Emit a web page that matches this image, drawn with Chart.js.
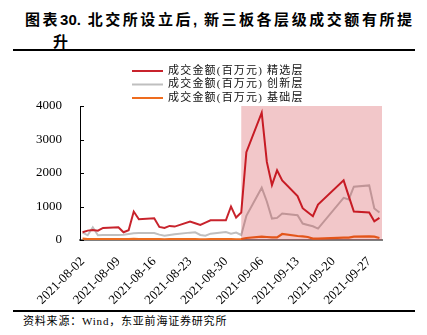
<!DOCTYPE html>
<html>
<head>
<meta charset="utf-8">
<script src="https://cdn.jsdelivr.net/npm/chart.js@4.4.0/dist/chart.umd.min.js"></script>
<style>
  html, body { margin: 0; padding: 0; background: #fff; }
  body { width: 427px; height: 335px; position: relative; overflow: hidden;
         font-family: "Liberation Sans", "Noto Sans CJK SC", sans-serif; color: #000; }
  .title { position: absolute; left: 25px; top: 9px; width: 359px; padding-left: 28px; text-indent: -28px;
           font-size: 15px; font-weight: bold; line-height: 22px;
           text-align: justify; text-align-last: justify; }
  .rule { position: absolute; left: 13px; width: 402px; height: 2px; background: #000; }
  #wrap { position: absolute; left: 0; top: 52px; width: 427px; height: 258px; }
  .src { position: absolute; left: 23px; top: 313px; font-size: 11px; line-height: 16px; letter-spacing: 0.8px;
         font-family: "Liberation Serif", "Noto Sans CJK SC", serif; }
</style>
</head>
<body>
<div class="title">图表30. 北交所设立后, 新三板各层级成交额有所提<br>升</div>
<div class="rule" style="top:49px"></div>
<div id="wrap"><canvas id="c"></canvas></div>
<div class="rule" style="top:310px"></div>
<div class="src">资料来源：Wind，东亚前海证券研究所</div>

<script>
// Trading days, August - September 2021
const tradeDates = [
  '2021-08-02','2021-08-03','2021-08-04','2021-08-05','2021-08-06',
  '2021-08-09','2021-08-10','2021-08-11','2021-08-12','2021-08-13',
  '2021-08-16','2021-08-17','2021-08-18','2021-08-19','2021-08-20',
  '2021-08-23','2021-08-24','2021-08-25','2021-08-26','2021-08-27',
  '2021-08-30','2021-08-31','2021-09-01','2021-09-02','2021-09-03',
  '2021-09-06','2021-09-07','2021-09-08','2021-09-09','2021-09-10',
  '2021-09-13','2021-09-14','2021-09-15','2021-09-16','2021-09-17',
  '2021-09-22','2021-09-23','2021-09-24',
  '2021-09-27','2021-09-28','2021-09-29'
];

// Turnover, million yuan
const selectTier = [
  230, 280, 300, 280, 360,
  380, 230, 290, 850, 620,
  650, 390, 360, 420, 400,
  550, 500, 450, 520, 590,
  590, 1000, 670, 820, 2620,
  3800, 2330, 1640, 2080, 1780,
  1310, 950, 830, 710, 1060,
  1780, 1310, 850,
  820, 560, 660
];
const innovationTier = [
  220, 140, 380, 140, 150,
  150, 160, 180, 200, 210,
  210, 160, 130, 150, 170,
  220, 230, 150, 130, 190,
  240, 190, 220, 150, 720,
  1560, 1150, 640, 660, 790,
  740, 490, 450, 410, 340,
  1260, 1210, 1590,
  1630, 940, 820
];
const baseTier = [
  40, 30, 30, 25, 30,
  25, 25, 30, 35, 30,
  30, 25, 20, 25, 30,
  30, 25, 20, 20, 25,
  30, 25, 20, 30, 60,
  100, 90, 80, 80, 180,
  120, 110, 90, 40, 40,
  70, 70, 100,
  110, 100, 60
];

const seriesNames = ['成交金额(百万元) 精选层', '成交金额(百万元) 创新层', '成交金额(百万元) 基础层'];
const seriesColors = ['#c8232c', '#bfbfbf', '#ee6c1e'];
const tickDates = ['2021-08-02','2021-08-09','2021-08-16','2021-08-23','2021-08-30',
                   '2021-09-06','2021-09-13','2021-09-20','2021-09-27'];
const yTicks = [0, 1000, 2000, 3000, 4000];
const highlightFrom = '2021-09-02';   // exchange announcement, shaded onward

const DAY = 86400000;
const base = Date.parse(tradeDates[0]);
const dayIndex = s => Math.round((Date.parse(s) - base) / DAY);
const toPoints = vals => tradeDates.map((d, i) => ({ x: dayIndex(d), y: vals[i] }));

const serif = "'Liberation Serif', 'Noto Sans CJK SC', serif";

// Translucent band over the post-announcement period
const bandPlugin = {
  id: 'band',
  afterDatasetsDraw(chart) {
    const { ctx, chartArea, scales } = chart;
    const x0 = scales.x.getPixelForValue(dayIndex(highlightFrom));
    ctx.save();
    ctx.fillStyle = 'rgba(194, 0, 10, 0.22)';
    ctx.fillRect(x0, chartArea.top, chartArea.right - x0, chartArea.bottom - chartArea.top);
    ctx.restore();
  }
};

// Short inward tick marks on the value axis
const innerTicks = {
  id: 'innerTicks',
  afterDraw(chart) {
    const { ctx, scales } = chart;
    const y = scales.y;
    ctx.save();
    ctx.strokeStyle = '#000';
    ctx.lineWidth = 1;
    y.ticks.forEach(t => {
      const py = Math.round(y.getPixelForValue(t.value)) + 0.5;
      ctx.beginPath();
      ctx.moveTo(y.right, py);
      ctx.lineTo(y.right + 4, py);
      ctx.stroke();
    });
    ctx.restore();
  }
};

// Stacked legend above the plot
const stackedLegend = {
  id: 'stackedLegend',
  afterDraw(chart) {
    const { ctx, chartArea } = chart;
    const x0 = chartArea.left + 52;
    ctx.save();
    ctx.font = '11px ' + serif;
    if ('letterSpacing' in ctx) ctx.letterSpacing = '1.2px';
    ctx.textBaseline = 'middle';
    ctx.fillStyle = '#111';
    chart.data.datasets.forEach((ds, i) => {
      const y = 19 + i * 13.5;
      ctx.strokeStyle = ds.borderColor;
      ctx.lineWidth = 2;
      ctx.beginPath();
      ctx.moveTo(x0, y);
      ctx.lineTo(x0 + 31, y);
      ctx.stroke();
      ctx.fillText(ds.label, x0 + 36, y);
    });
    ctx.restore();
  }
};

new Chart(document.getElementById('c'), {
  type: 'line',
  data: {
    datasets: [
      { label: seriesNames[0], data: toPoints(selectTier), borderColor: seriesColors[0], borderWidth: 2 },
      { label: seriesNames[1], data: toPoints(innovationTier), borderColor: seriesColors[1], borderWidth: 2 },
      { label: seriesNames[2], data: toPoints(baseTier), borderColor: seriesColors[2], borderWidth: 2.2 }
    ]
  },
  options: {
    responsive: true,
    maintainAspectRatio: false,
    animation: false,
    layout: { padding: { top: 54, right: 45, left: 0, bottom: 0 } },
    elements: { point: { radius: 0 }, line: { tension: 0 } },
    plugins: { legend: { display: false }, tooltip: { enabled: false } },
    scales: {
      x: {
        type: 'linear',
        min: dayIndex(tradeDates[0]) - 0.5,
        max: dayIndex(tradeDates[tradeDates.length - 1]) + 0.5,
        afterBuildTicks: s => { s.ticks = tickDates.map(d => ({ value: dayIndex(d) })); },
        afterFit: s => { s.height = 70; },
        grid: { display: false },
        border: { display: true, color: '#7f7f7f', width: 2 },
        ticks: {
          autoSkip: false, minRotation: 45, maxRotation: 45, padding: 6,
          color: '#000', font: { family: serif, size: 13 },
          callback: (v, i) => tickDates[i]
        }
      },
      y: {
        min: yTicks[0],
        max: yTicks[yTicks.length - 1],
        afterBuildTicks: s => { s.ticks = yTicks.map(v => ({ value: v })); },
        afterFit: s => { s.width = 80; },
        grid: { display: false },
        border: { display: true, color: '#000', width: 1 },
        ticks: { padding: 10, color: '#000', font: { family: serif, size: 13 },
                 callback: v => String(v) }
      }
    }
  },
  plugins: [bandPlugin, innerTicks, stackedLegend]
});
</script>
</body>
</html>
